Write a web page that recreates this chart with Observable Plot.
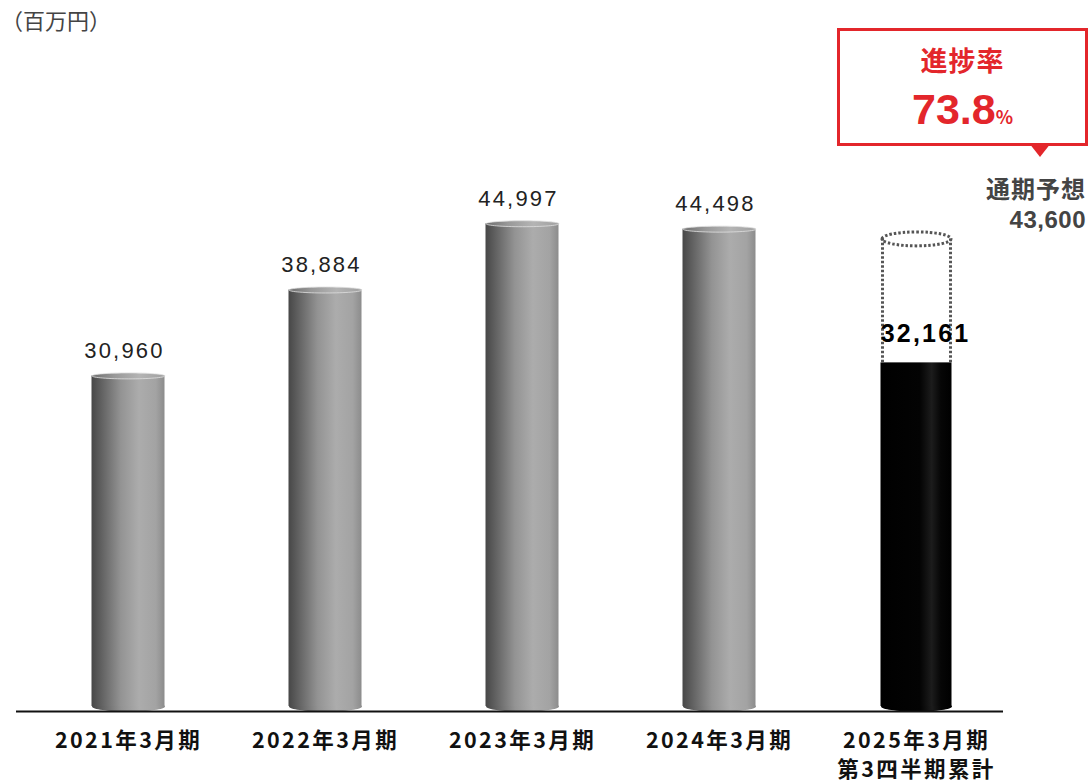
<!DOCTYPE html>
<html>
<head>
<meta charset="utf-8">
<script src="https://cdn.jsdelivr.net/npm/d3@7"></script>
<script src="https://cdn.jsdelivr.net/npm/@observablehq/plot@0.6"></script>
<style>
  html, body { margin: 0; padding: 0; background: #fff; }
  #wrap { position: relative; width: 1092px; height: 784px; overflow: hidden; font-family: "Noto Sans CJK JP", "Noto Sans", sans-serif; }
  #unit { position: absolute; left: 1px; top: 4px; font-size: 22px; line-height: 30px; color: #444; }
  #callout { position: absolute; left: 837px; top: 28px; width: 245px; height: 112px; border: 3px solid #e3262b; background: #fff; text-align: center; color: #e3262b; font-weight: bold; }
  #callout .t1 { position: absolute; left: 0; right: 0; top: 13px; font-size: 27px; line-height: 32px; letter-spacing: 1px; }
  #callout .t2 { position: absolute; left: 0; right: 0; top: 54px; font-family: "Liberation Sans", Arial, sans-serif; font-size: 43px; line-height: 48px; }
  #callout .t2 span { font-family: "Noto Sans CJK JP", sans-serif; font-size: 18px; font-weight: bold; }
  #tri { position: absolute; left: 1029px; top: 143px; width: 0; height: 0; border-left: 11px solid transparent; border-right: 11px solid transparent; border-top: 14px solid #e3262b; }
  #fc { position: absolute; right: 6px; top: 171px; text-align: right; color: #444; font-weight: bold; }
  #fc .l1 { font-size: 24px; line-height: 34px; letter-spacing: 1px; }
  #fc .l2 { font-family: "Liberation Sans", Arial, sans-serif; font-size: 24px; line-height: 30px; letter-spacing: 0.5px; }
  svg { position: absolute; left: 0; top: 0; }
</style>
</head>
<body>
<div id="wrap"></div>
<script>
const categories = ["2021年3月期", "2022年3月期", "2023年3月期", "2024年3月期", "2025年3月期\n第3四半期累計"];
const values = [30960, 38884, 44997, 44498, 32161];
const forecastLabel = "通期予想";
const forecastValue = 43600;
const progressLabel = "進捗率";
const progressValue = "73.8";
const unitLabel = "（百万円）";

const data = categories.map((c, i) => ({cat: c, value: values[i], current: i === categories.length - 1}));
const past = data.filter(d => !d.current);
const cur = data.filter(d => d.current);
const fcData = [{cat: categories[categories.length - 1], lo: values[values.length - 1], hi: forecastValue}];

function ellipse(rx, ry) {
  const k = 0.5523;
  return {
    draw(ctx) {
      ctx.moveTo(-rx, 0);
      ctx.bezierCurveTo(-rx, -ry * k, -rx * k, -ry, 0, -ry);
      ctx.bezierCurveTo(rx * k, -ry, rx, -ry * k, rx, 0);
      ctx.bezierCurveTo(rx, ry * k, rx * k, ry, 0, ry);
      ctx.bezierCurveTo(-rx * k, ry, -rx, ry * k, -rx, 0);
      ctx.closePath();
    }
  };
}

const numFmt = d3.format(",");

const chart = Plot.plot({
  width: 1092,
  height: 784,
  marginLeft: 16,
  marginRight: 89,
  marginTop: 169,
  marginBottom: 73,
  x: {domain: categories, range: [91, 953], paddingInner: 0.6354, paddingOuter: 0, label: null},
  y: {domain: [0, 50000], range: [711, 169], axis: null},
  style: {fontFamily: "\"Noto Sans CJK JP\", sans-serif", background: "transparent", overflow: "visible"},
  marks: [
    Plot.dot(past, {x: "cat", y: 0, dy: -5, r: 1, symbol: ellipse(36.5, 5), fill: "url(#gGray)", stroke: "none"}),
    Plot.dot(cur, {x: "cat", y: 0, dy: -5, r: 1, symbol: ellipse(35.5, 5), fill: "url(#gBlack)", stroke: "none"}),
    Plot.barY(past, {x: "cat", y1: 0, y2: "value", insetBottom: 5, insetLeft: -0.5, insetRight: -0.5, fill: "url(#gGray)"}),
    Plot.barY(cur, {x: "cat", y1: 0, y2: "value", insetBottom: 5, insetLeft: 0.5, insetRight: 0.5, fill: "url(#gBlack)"}),
    Plot.dot(past, {x: "cat", y: "value", r: 1, symbol: ellipse(36.5, 3), fill: "url(#gGrayTop)", stroke: "#e0e0e0", strokeWidth: 0.8}),
    Plot.ruleY([0], {stroke: "#111", strokeWidth: 2.2}),
    Plot.ruleX(fcData, {x: "cat", y1: "lo", y2: "hi", dx: -34, stroke: "#555", strokeWidth: 3, strokeDasharray: "2.5 2"}),
    Plot.ruleX(fcData, {x: "cat", y1: "lo", y2: "hi", dx: 34, stroke: "#555", strokeWidth: 3, strokeDasharray: "2.5 2"}),
    Plot.dot(fcData, {x: "cat", y: "hi", r: 1, symbol: ellipse(34.5, 7), fill: "none", stroke: "#555", strokeWidth: 3, strokeDasharray: "2.5 2"}),
    Plot.text(past, {x: "cat", y: "value", text: d => numFmt(d.value), dy: -25, dx: -4, fontSize: 22, fill: "#222", fontFamily: "\"Liberation Sans\", Arial, sans-serif"}),
    Plot.text(cur, {x: "cat", y: "value", text: d => numFmt(d.value), dy: -29, dx: 9, fontSize: 25, fontWeight: "bold", fill: "#000", fontFamily: "\"Liberation Sans\", Arial, sans-serif"}),
    Plot.axisX({tickSize: 0, tickPadding: 16, fontSize: 21.5, fontWeight: "bold", fill: "#111", lineHeight: 1.34, label: null, tickFormat: d => d})
  ]
});

const svg = d3.select(chart);
const defs = svg.insert("defs", ":first-child");
function grad(id, stops) {
  const g = defs.append("linearGradient").attr("id", id).attr("x1", "0").attr("x2", "1").attr("y1", "0").attr("y2", "0");
  stops.forEach(([o, c]) => g.append("stop").attr("offset", o).attr("stop-color", c));
}
grad("gGray", [["0", "#474747"], ["0.12", "#5e5e5e"], ["0.4", "#939393"], ["0.65", "#acacac"], ["0.88", "#a3a3a3"], ["1", "#8c8c8c"]]);
grad("gGrayTop", [["0", "#6e6e6e"], ["0.3", "#989898"], ["0.65", "#b4b4b4"], ["1", "#a0a0a0"]]);
grad("gBlack", [["0", "#000"], ["0.55", "#030303"], ["0.72", "#1c1c1c"], ["0.85", "#060606"], ["1", "#000"]]);

svg.selectAll('g[aria-label="x-axis tick label"] text').style("letter-spacing", "2.4px");
svg.selectAll('g[aria-label="text"] text').style("letter-spacing", "2.2px");

const wrap = document.getElementById("wrap");
wrap.appendChild(chart);

const unit = document.createElement("div");
unit.id = "unit"; unit.textContent = unitLabel;
wrap.appendChild(unit);

const callout = document.createElement("div");
callout.id = "callout";
callout.innerHTML = `<div class="t1">${progressLabel}</div><div class="t2">${progressValue}<span>%</span></div>`;
wrap.appendChild(callout);

const tri = document.createElement("div");
tri.id = "tri";
wrap.appendChild(tri);

const fc = document.createElement("div");
fc.id = "fc";
fc.innerHTML = `<div class="l1">${forecastLabel}</div><div class="l2">${numFmt(forecastValue)}</div>`;
wrap.appendChild(fc);
</script>
</body>
</html>
